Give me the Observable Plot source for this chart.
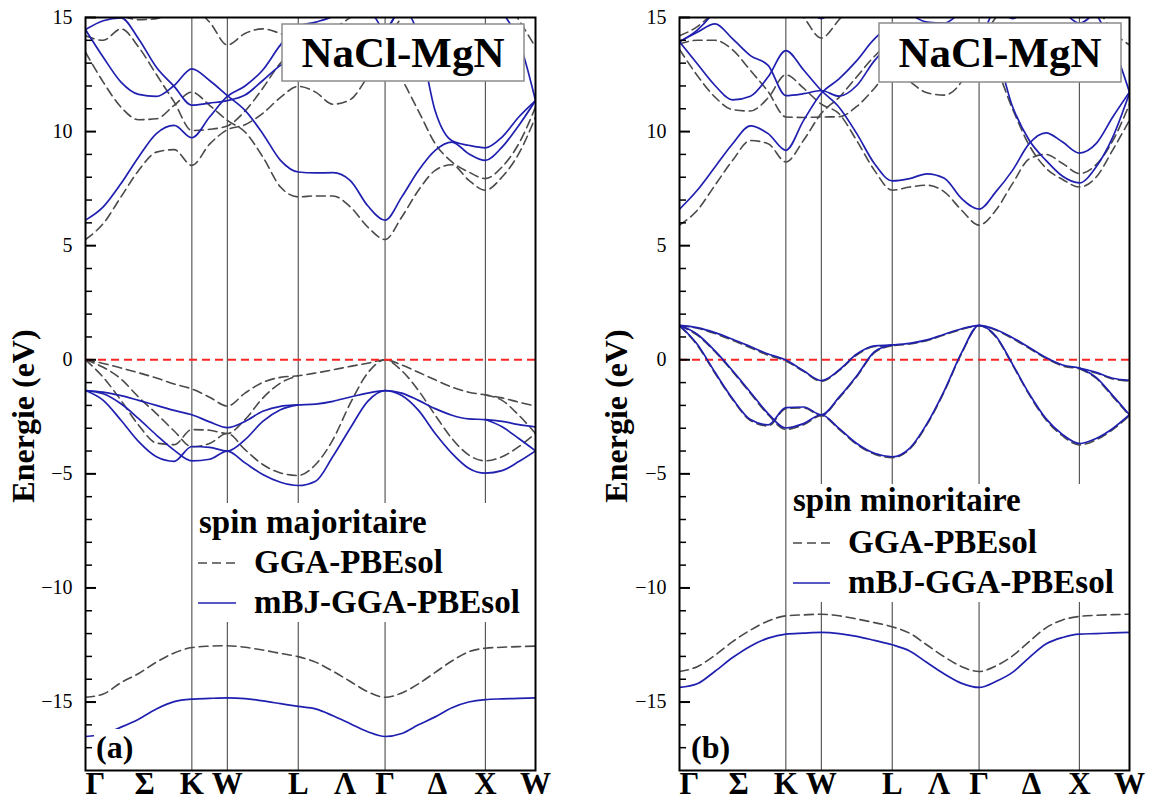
<!DOCTYPE html>
<html><head><meta charset="utf-8">
<script src="https://cdn.jsdelivr.net/npm/d3@7"></script>
<script src="https://cdn.jsdelivr.net/npm/@observablehq/plot@0.6"></script>
<style>
body{margin:0;background:#fff;}
#wrap{position:relative;width:1152px;height:810px;overflow:hidden;background:#fff;}
#pa,#pb{position:absolute;top:0;}
#pa{left:0;} #pb{left:576px;}
#ov{position:absolute;left:0;top:0;pointer-events:none;}
</style></head><body>
<div id="wrap"><div id="pa"></div><div id="pb"></div>
<svg id="ov" width="1152" height="810" font-family="Liberation Serif" font-weight="bold" fill="black">
  <rect x="282" y="24" width="242" height="57" fill="#fff" stroke="#8c8c8c" stroke-width="1.5"/>
  <text x="403" y="67" text-anchor="middle" font-size="43">NaCl-MgN</text>
  <rect x="196" y="503" width="330" height="119" fill="#fff"/>
  <text x="199" y="533" font-size="33">spin majoritaire</text>
  <line x1="198" x2="236" y1="563" y2="563" stroke="#4a4a4a" stroke-width="1.6" stroke-dasharray="9,5"/>
  <text x="254" y="573" font-size="33">GGA-PBEsol</text>
  <line x1="198" x2="236" y1="603" y2="603" stroke="#2020b0" stroke-width="1.7"/>
  <text x="254" y="613" font-size="33">mBJ-GGA-PBEsol</text>
  <rect x="94" y="729" width="43" height="39" fill="#fff"/>
  <text x="96" y="758" font-size="32">(a)</text>

  <rect x="879" y="23" width="242" height="59" fill="#fff" stroke="#8c8c8c" stroke-width="1.5"/>
  <text x="1000" y="67" text-anchor="middle" font-size="43">NaCl-MgN</text>
  <rect x="789" y="484" width="333" height="118" fill="#fff"/>
  <text x="793" y="511" font-size="33">spin minoritaire</text>
  <line x1="793" x2="830" y1="543" y2="543" stroke="#4a4a4a" stroke-width="1.6" stroke-dasharray="9,5"/>
  <text x="848" y="553" font-size="33">GGA-PBEsol</text>
  <line x1="793" x2="830" y1="583" y2="583" stroke="#2020b0" stroke-width="1.7"/>
  <text x="848" y="593" font-size="33">mBJ-GGA-PBEsol</text>
  <text x="691" y="758" font-size="32">(b)</text>
</svg></div>
<script>
// k-path sample positions (units of 2π/a) along Γ-K-W-L-Γ-X-W
const kGrid = [0, 0.177, 0.354, 0.530, 0.707, 0.884, 1.0607, 1.2374, 1.4142, 1.591, 1.7678, 1.9445, 2.1213, 2.2945, 2.4677, 2.6409, 2.8141, 2.9873, 3.154, 3.3206, 3.4873, 3.654, 3.8206, 3.9873, 4.154, 4.3206, 4.4873];
const symK = [1.0607, 1.4142, 2.1213, 2.9873, 3.9873];
const kLabelPos = [0, 0.59, 1.0607, 1.4142, 2.1213, 2.59, 2.9873, 3.51, 3.9873, 4.4873];
const kLabels = ["Γ", "Σ", "K", "W", "L", "Λ", "Γ", "Δ", "X", "W"];
const majorTicks = [15, 10, 5, 0, -5, -10, -15];
const minorTicks = [14,13,12,11,9,8,7,6,4,3,2,1,-1,-2,-3,-4,-6,-7,-8,-9,-11,-12,-13,-14,-16,-17];
const yTitle = "Energie (eV)";

// ---- Panel (a): spin majoritaire ----  (null = degenerate with another band, drawn once)
const aM_v1 = [-1.35,-1.42,-1.57,-1.78,-2.00,-2.22,-2.41, -2.72,-2.97, -2.70,-2.26,-2.04,-1.98, -1.94,-1.82,-1.63,-1.46,-1.35, -1.46,-1.78,-2.14,-2.43,-2.59,-2.62, -2.70,-2.84,-2.94];
const aM_v2 = [-1.35,-1.78,-2.65,-3.59,-4.25,-4.45,-3.80, -3.84,-4.00, -3.50,-2.70,-2.19,-1.98, null,null,null,null,null, null,null,null,null,null,-2.62, -2.94,-3.45,-3.99];
const aM_v3 = [-1.35,-1.49,-1.93,-2.58,-3.30,-3.96,-4.43, -4.36,-4.00, -4.52,-5.03,-5.37,-5.51, -5.32,-4.23,-2.99,-1.82,-1.35, -1.57,-2.22,-3.23,-4.10,-4.75,-4.97, -4.86,-4.46,-3.99];
const aM_s  = [-16.51,-16.4,-16.1,-15.75,-15.3,-14.98,-14.87, -14.84,-14.82, -14.85,-14.95,-15.07,-15.19, -15.3,-15.6,-15.95,-16.3,-16.51, -16.38,-16.0,-15.65,-15.25,-15.0,-14.89, -14.86,-14.84,-14.82];
const aM_c1 = [6.12,6.70,7.72,8.89,9.91,10.27,9.73, 10.64,11.54, 12.0,12.7,13.8,14.6, 14.8,15.05,15.5,15.4,14.47, 15.4,14.2,10.9,9.6,9.4,9.29, 9.76,10.64,11.36];
const aM_c2 = [14.47,13.26,12.17,11.63,11.54,12.02,12.75, 12.24,11.58, 10.93,9.91,8.74,8.23, 8.19,8.2,7.85,6.75,6.12, 7.14,8.30,9.18,9.54,9.03,8.74, 9.32,10.27,11.36];
const aM_c3 = [14.47,14.86,14.98,14.06,12.82,11.98,11.16, 11.25,11.36, 11.6,12.24,12.9,13.3, 13.6,13.9,14.1,14.3,14.47, 15.6,16.5,17,17,17,17, 15.3,14.0,11.36];

const aG_v1 = [0,-0.16,-0.36,-0.57,-0.80,-1.06,-1.28, -1.64,-2.03, -1.46,-0.99,-0.77,-0.70, -0.58,-0.44,-0.29,-0.15,0, -0.23,-0.55,-0.88,-1.20,-1.42,-1.54, -1.67,-1.86,-2.03];
const aG_v2 = [0,-0.77,-1.78,-2.87,-3.65,-3.72,-3.06, -3.09,-3.23, -2.62,-1.68,-1.02,-0.70, null,null,null,null,null, null,null,null,null,null,-1.54, -1.78,-2.43,-3.23];
const aG_v3 = [0,-0.33,-0.84,-1.64,-2.36,-3.12,-3.81, -3.67,-3.23, -3.94,-4.59,-4.96,-5.07, -4.59,-3.50,-1.90,-0.58,0, -0.48,-1.35,-2.43,-3.45,-4.17,-4.43, -4.25,-3.81,-3.23];
const aG_s  = [-14.79,-14.65,-14.15,-13.75,-13.25,-12.85,-12.61, -12.55,-12.53, -12.6,-12.72,-12.87,-13.01, -13.25,-13.65,-14.1,-14.55,-14.79, -14.6,-14.2,-13.7,-13.2,-12.8,-12.64, -12.6,-12.57,-12.55];
const aG_c1 = [5.27,5.97,7.14,8.30,9.10,9.21,8.52, 9.45,10.08, 10.3,10.8,11.5,11.98, 11.73,11.2,11.4,12.4,13.48, 12.3,10.9,9.47,8.67,8.23,7.94, 8.45,9.47,11.07];
const aG_c2 = [13.48,12.17,11.07,10.52,10.56,11.15,11.73, 11.15,10.49, 9.98,8.89,7.57,7.14, 7.18,7.18,6.7,5.82,5.27, 6.26,7.43,8.30,8.55,7.87,7.43, 8.01,9.03,10.64];
const aG_c3 = [14.2,14.0,14.5,13.7,12.5,11.3,10.05, 10.1,10.25, 10.9,11.9,13.0,13.6, 13.8,13.9,14.0,14.1,14.2, 15,16,16.5,16.5,16.5,16.5, 16.0,14.9,13.7];
const aG_c4 = [15.8,15.5,15.1,14.9,14.95,15.3,15.4, 14.8,13.8, 14.3,14.5,14.3,14.0, 14.2,14.5,15.0,15.5,15.8, 17,17,17,17,17,17, 17,17,16];

// ---- Panel (b): spin minoritaire ----
const bM_v1 = [1.51,1.41,1.19,0.90,0.58,0.25,-0.01, -0.48,-0.91, -0.45,0.25,0.61,0.65, 0.72,0.87,1.12,1.36,1.51, 1.33,0.97,0.54,0.10,-0.23,-0.36, -0.55,-0.81,-0.90];
const bM_v2 = [1.51,0.68,-0.55,-1.71,-2.62,-2.85,-2.10, -2.07,-2.41, -1.64,-0.70,0.35,0.65, null,null,null,null,null, null,null,null,null,null,-0.36, -0.77,-1.57,-2.41];
const bM_v3 = [1.51,1.12,0.39,-0.48,-1.42,-2.36,-2.99, -2.80,-2.41, -3.01,-3.67,-4.10,-4.25, -3.88,-2.80,-1.35,0.32,1.51, 1.04,-0.19,-1.49,-2.58,-3.28,-3.67, -3.45,-3.01,-2.41];
const bM_s  = [-14.36,-14.2,-13.65,-13.05,-12.55,-12.2,-12.02, -11.98,-11.95, -12.0,-12.12,-12.3,-12.49, -12.76,-13.27,-13.77,-14.18,-14.36, -14.1,-13.7,-13.05,-12.46,-12.17,-12.02, -12.0,-11.97,-11.95];
const bM_c1 = [6.60,7.43,8.45,9.47,10.25,9.91,9.18, 10.49,11.68, 12.31,13.11,14.06,14.6, 14.4,14.2,14.3,14.1,13.94, 13.4,11.1,9.62,8.74,8.04,7.75, 8.45,9.76,11.69];
const bM_c2 = [13.94,12.97,12.02,11.39,11.55,12.4,13.55, 12.7,11.8, 11.07,9.91,8.59,7.84, 7.94,8.15,7.95,7.06,6.60, 7.36,8.30,9.47,9.94,9.54,9.06, 9.47,10.64,11.73];
const bM_c3 = [13.94,14.35,14.72,14.06,13.33,12.9,11.58, 11.66,11.8, 11.55,12.02,13.11,13.8, 13.0,12.5,12.3,12.7,13.94, 15.5,16.5,17,17,17,17, 15.2,13.8,11.73];
const bM_c4 = [13.94,14.45,15.3,16.5,17,17,16.5, 15.6,14.95, 15.6,16.5,17,16, 15.2,14.8,14.75,15.3,16, 15.5,14.95,15.5,16,15.3,14.75, 15.3,16.3,17];

const bG_v1 = [1.49,1.38,1.15,0.85,0.53,0.20,-0.05, -0.51,-0.94, -0.48,0.21,0.58,0.62, 0.69,0.84,1.09,1.33,1.49, 1.30,0.93,0.50,0.06,-0.27,-0.39, -0.58,-0.84,-0.93];
const bG_v2 = [1.49,0.64,-0.59,-1.75,-2.66,-2.90,-2.14, -2.11,-2.45, -1.68,-0.74,0.31,0.62, null,null,null,null,null, null,null,null,null,null,-0.39, -0.81,-1.62,-2.45];
const bG_v3 = [1.49,1.08,0.35,-0.52,-1.47,-2.41,-3.05, -2.85,-2.45, -3.05,-3.71,-4.14,-4.29, -3.92,-2.84,-1.39,0.28,1.49, 1.00,-0.23,-1.53,-2.63,-3.34,-3.73, -3.51,-3.06,-2.45];
const bG_s  = [-13.66,-13.45,-12.95,-12.35,-11.85,-11.45,-11.22, -11.18,-11.15, -11.22,-11.36,-11.52,-11.70, -11.98,-12.5,-13.02,-13.45,-13.66, -13.42,-12.98,-12.35,-11.75,-11.4,-11.25, -11.2,-11.17,-11.15];
const bG_c1 = [5.90,6.55,7.65,8.74,9.61,9.47,8.67, 9.62,10.8, 11.5,12.4,13.3,13.9, 13.7,13.6,13.6,13.6,13.6, 12.8,11.0,9.4,8.4,7.9,7.57, 8.0,9.2,10.5];
const bG_c2 = [13.6,12.46,11.51,10.96,10.9,11.48,12.49, 11.9,11.2, 10.78,9.6,8.3,7.43, 7.57,7.65,7.36,6.55,5.90, 6.55,7.72,8.8,9.0,8.6,8.16, 8.55,9.6,11.2];
const bG_c3 = [13.85,14.0,14.0,13.58,12.68,11.75,10.64, 10.62,10.64, 10.65,11.1,11.9,12.8, 12.2,11.7,11.6,12.2,13.85, 15,16,16.5,16.5,16.5,16.5, 15.5,14.4,13.8];
const bG_c4 = [14.2,14.6,15.3,16.2,16.8,16.5,15.8, 15.0,14.1, 14.9,15.8,16.5,17, 17,17,17,17,17, 17,17,17,17,17,17, 17,17,16];

const font = "Liberation Serif, Times New Roman, serif";

function rows(list) {
  return list.flatMap((arr, b) => arr.map((E, i) => ({k: kGrid[i], E, band: b})));
}

function panel(el, cfg) {
  const W = 576, H = 810, mT = 17, mB = 40;
  const pw = W - cfg.mL - cfg.mR;
  const chart = Plot.plot({
    width: W, height: H,
    marginLeft: cfg.mL, marginRight: cfg.mR, marginTop: mT, marginBottom: mB,
    x: {domain: [0, kGrid[kGrid.length - 1]], axis: null},
    y: {domain: [-18, 15], axis: null},
    style: {fontFamily: font, background: "white", color: "black", overflow: "visible"},
    marks: [
      Plot.ruleX(symK, {stroke: "#3a3a3a", strokeWidth: 1}),
      Plot.line(rows(cfg.gga), {x: "k", y: "E", z: "band", stroke: "#4a4a4a", strokeWidth: 1.6, strokeDasharray: "9,5", curve: "monotone-x", clip: true}),
      Plot.ruleY([0], {stroke: "#ff2424", strokeWidth: 2, strokeDasharray: "8,5"}),
      Plot.line(rows(cfg.mbj), {x: "k", y: "E", z: "band", stroke: "#2020b0", strokeWidth: 1.7, curve: "monotone-x", clip: true}),
      Plot.tickY(minorTicks, {y: d => d, insetRight: pw - 7, stroke: "black", strokeWidth: 1.5}),
      Plot.tickY(majorTicks, {y: d => d, insetRight: pw - 11, stroke: "black", strokeWidth: 2}),
      Plot.axisY(majorTicks, {anchor: "left", tickSize: 0, tickPadding: 13, fontSize: 20, label: null, fill: "black"}),
      Plot.text([kLabelPos[0]], {x: d => d, text: () => kLabels[0], frameAnchor: "bottom", dy: 23, textAnchor: "start", fontSize: 31, fontWeight: "bold", fill: "black"}),
      Plot.text(kLabelPos.slice(1), {x: d => d, text: (d, i) => kLabels[i + 1], frameAnchor: "bottom", dy: 23, fontSize: 31, fontWeight: "bold", fill: "black"}),
      Plot.text([yTitle], {text: d => d, frameAnchor: "left", textAnchor: "middle", dx: cfg.titleDx, dy: 22, rotate: -90, fontSize: 32, fontWeight: "bold", fill: "black"}),
      Plot.frame({stroke: "black", strokeWidth: 2})
    ]
  });
  document.getElementById(el).appendChild(chart);
}

panel("pa", {mL: 85, mR: 41, titleDx: -62,
  gga: [aG_v1, aG_v2, aG_v3, aG_s, aG_c1, aG_c2, aG_c3, aG_c4],
  mbj: [aM_v1, aM_v2, aM_v3, aM_s, aM_c1, aM_c2, aM_c3]});
panel("pb", {mL: 103, mR: 23, titleDx: -63,
  gga: [bG_v1, bG_v2, bG_v3, bG_s, bG_c1, bG_c2, bG_c3, bG_c4],
  mbj: [bM_v1, bM_v2, bM_v3, bM_s, bM_c1, bM_c2, bM_c3, bM_c4]});
</script>
</body></html>
